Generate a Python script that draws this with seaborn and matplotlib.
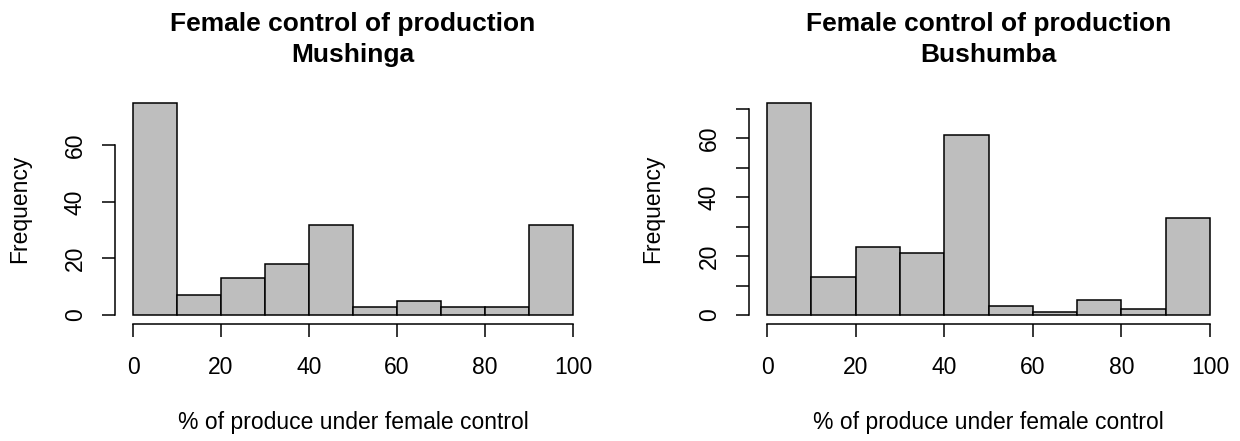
import numpy as np
import pandas as pd
import matplotlib
matplotlib.use("Agg")
import matplotlib.pyplot as plt
import seaborn as sns

# ---- data ----
bin_edges = [0, 10, 20, 30, 40, 50, 60, 70, 80, 90, 100]
mushinga_counts = [75, 7, 13, 18, 32, 3, 5, 3, 3, 32]
bushumba_counts = [72, 13, 23, 21, 61, 3, 1, 5, 2, 33]
panel_names = ["Mushinga", "Bushumba"]
title_main = "Female control of production"
x_label = "% of produce under female control"
y_label = "Frequency"
x_ticks = [0, 20, 40, 60, 80, 100]
mushinga_yticks = [0, 20, 40, 60]
mushinga_ylabels = ["0", "20", "40", "60"]
bushumba_yticks = [0, 10, 20, 30, 40, 50, 60, 70]
bushumba_ylabels = ["0", "", "20", "", "40", "", "60", ""]

sns.set_theme(style="ticks")
plt.rcParams["font.family"] = ["Liberation Sans", "DejaVu Sans"]
plt.rcParams["text.color"] = "black"
plt.rcParams["axes.labelcolor"] = "black"
plt.rcParams["axes.titlecolor"] = "black"

W, H = 1240, 441
fig = plt.figure(figsize=(W / 100, H / 100), dpi=100)

# plot regions in pixels: (left, right, top, bottom)
regions = [(115.4, 590.6, 94.5, 323.5), (749.3, 1227.7, 94.5, 323.5)]
ylabel_x = [19.5, 653]
counts_list = [mushinga_counts, bushumba_counts]
yticks_list = [mushinga_yticks, bushumba_yticks]
ylabels_list = [mushinga_ylabels, bushumba_ylabels]

base_fs = 16.5
for i in range(2):
    l, r, t, b = regions[i]
    ax = fig.add_axes([l / W, (H - b) / H, (r - l) / W, (b - t) / H])
    counts = counts_list[i]
    df = pd.DataFrame({
        "mid": [(bin_edges[k] + bin_edges[k + 1]) / 2 for k in range(len(counts))],
        "count": counts,
    })
    sns.histplot(data=df, x="mid", weights="count", bins=bin_edges, ax=ax,
                 color="#BEBEBE", edgecolor="black", linewidth=1.1, alpha=1.0)
    ymax = max(counts)
    ax.set_xlim(-4, 104)
    ax.set_ylim(-0.04 * ymax, 1.04 * ymax)
    ax.set_xticks(x_ticks)
    ax.set_xticklabels([str(v) for v in x_ticks])
    ax.set_yticks(yticks_list[i])
    ax.set_yticklabels(ylabels_list[i], rotation=90, va="center")
    for side in ["top", "right"]:
        ax.spines[side].set_visible(False)
    ax.spines["left"].set_bounds(yticks_list[i][0], yticks_list[i][-1])
    ax.spines["bottom"].set_bounds(x_ticks[0], x_ticks[-1])
    for side in ["left", "bottom"]:
        ax.spines[side].set_linewidth(1.1)
        ax.spines[side].set_color("black")
    ax.tick_params(axis="both", direction="out", length=9.5, width=1.1,
                   colors="black", labelsize=base_fs)
    ax.tick_params(axis="x", pad=14)
    ax.tick_params(axis="y", pad=11)
    ax.set_xlabel(x_label, fontsize=base_fs)
    ax.set_ylabel(y_label, fontsize=base_fs)
    ax.xaxis.label.set_va("center")
    ax.yaxis.label.set_va("center")
    ax.xaxis.set_label_coords(0.5, -(423 - b) / (b - t))
    ax.yaxis.set_label_coords((ylabel_x[i] - l) / (r - l), 0.5)
    ax.set_title(f"{title_main}\n{panel_names[i]}", fontsize=19.0, fontweight="bold",
                 linespacing=1.4, y=1 + (t - 39.5) / (b - t), va="center", pad=0)
    ax.grid(False)
    ax.set_facecolor("white")

fig.savefig("out.png", dpi=100, facecolor="white")
